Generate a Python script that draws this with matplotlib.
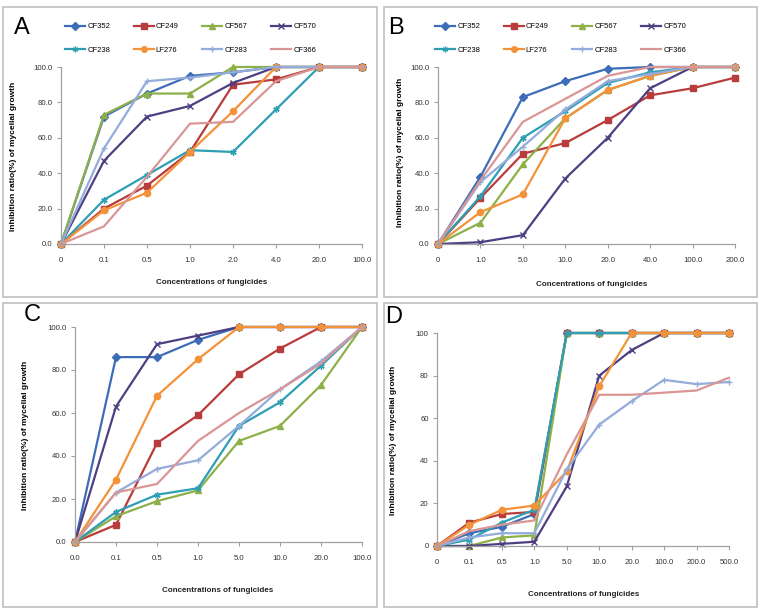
import matplotlib
matplotlib.use("Agg")
import matplotlib.pyplot as plt
from matplotlib.patches import Rectangle

plt.rcParams['font.family'] = ['Liberation Sans', 'DejaVu Sans']

strains = ["CF352", "CF249", "CF567", "CF570", "CF238", "LF276", "CF283", "CF366"]
colors = ['#3D6DB8', '#B83C3C', '#8DB048', '#4E3F82', '#2E9FB3', '#F39238', '#93ACDB', '#DA9695']
markers = ['D', 's', '^', 'x', (6, 2, 0), 'o', '+', None]

conc_A = ["0", "0.1", "0.5", "1.0", "2.0", "4.0", "20.0", "100.0"]
conc_B = ["0", "1.0", "5.0", "10.0", "20.0", "40.0", "100.0", "200.0"]
conc_C = ["0.0", "0.1", "0.5", "1.0", "5.0", "10.0", "20.0", "100.0"]
conc_D = ["0", "0.1", "0.5", "1.0", "5.0", "10.0", "20.0", "100.0", "200.0", "500.0"]

# rows follow the order of strains
values_A = [
    [0, 72, 85, 95, 97, 100, 100, 100],
    [0, 20, 33, 52, 90, 93, 100, 100],
    [0, 73, 85, 85, 100, 100, 100, 100],
    [0, 47, 72, 78, 91, 100, 100, 100],
    [0, 25, 39, 53, 52, 76, 100, 100],
    [0, 19, 29, 52, 75, 100, 100, 100],
    [0, 54, 92, 94, 97, 100, 100, 100],
    [0, 10, 38, 68, 69, 92, 100, 100],
]
values_B = [
    [0, 38, 83, 92, 99, 100, 100, 100],
    [0, 26, 51, 57, 70, 84, 88, 94],
    [0, 12, 45, 71, 87, 95, 100, 100],
    [0, 1, 5, 37, 60, 88, 100, 100],
    [0, 27, 60, 75, 91, 97, 100, 100],
    [0, 18, 28, 71, 87, 95, 100, 100],
    [0, 35, 55, 76, 92, 96, 100, 100],
    [0, 36, 69, 82, 95, 100, 100, 100],
]
values_C = [
    [0, 86, 86, 94, 100, 100, 100, 100],
    [0, 8, 46, 59, 78, 90, 100, 100],
    [0, 12, 19, 24, 47, 54, 73, 100],
    [0, 63, 92, 96, 100, 100, 100, 100],
    [0, 14, 22, 25, 54, 65, 82, 100],
    [0, 29, 68, 85, 100, 100, 100, 100],
    [0, 23, 34, 38, 54, 71, 84, 100],
    [0, 23, 27, 47, 60, 71, 83, 100],
]
values_D = [
    [0, 6, 9, 15, 100, 100, 100, 100, 100, 100],
    [0, 11, 15, 16, 100, 100, 100, 100, 100, 100],
    [0, 0, 4, 5, 100, 100, 100, 100, 100, 100],
    [0, 0, 1, 2, 28, 80, 92, 100, 100, 100],
    [0, 3, 11, 17, 100, 100, 100, 100, 100, 100],
    [0, 10, 17, 19, 35, 75, 100, 100, 100, 100],
    [0, 4, 6, 6, 36, 57, 68, 78, 76, 77],
    [0, 7, 10, 12, 43, 71, 71, 72, 73, 79],
]

W, H = 761, 614
fig = plt.figure(figsize=(W / 100, H / 100), dpi=100)


def fx(px):
    return px / W


def fy(py):
    return 1 - py / H


# panel frames
for (x0, y0, x1, y1) in [(3, 7, 377, 297), (384, 7, 757, 297), (3, 303, 377, 607), (384, 303, 757, 607)]:
    fig.patches.append(Rectangle((fx(x0), fy(y1)), fx(x1 - x0), (y1 - y0) / H,
                                 transform=fig.transFigure, fill=False, ec='#C4C4C4', lw=1.3))

panels = [
    ("A", conc_A, values_A, (61, 67, 362, 244), "{:.1f}", (22, 28), (14, 156), (212, 283)),
    ("B", conc_B, values_B, (438, 67, 735, 244), "{:.1f}", (396, 28), (401, 152), (592, 284)),
    ("C", conc_C, values_C, (75, 327, 362, 542), "{:.1f}", (32, 315), (26, 435), (218, 590)),
    ("D", conc_D, values_D, (437, 333, 729, 546), "{:.0f}", (394, 317), (394, 440), (584, 595)),
]

# legend is filled row by row in the reference (4 per row)
row_order = [0, 4, 1, 5, 2, 6, 3, 7]

gray = '#A0A0A0'
for letter, cats, vals, (l, t, r, b), fmt, lpos, ypos, xpos in panels:
    ax = fig.add_axes([fx(l), fy(b), fx(r - l), (b - t) / H])
    x = list(range(len(cats)))
    handles = []
    for name, c, m, v in zip(strains, colors, markers, vals):
        h, = ax.plot(x, v, color=c, lw=1.6, marker=m, ms=4.5, mew=1.0,
                     mec=c, mfc=c, clip_on=False, label=name)
        handles.append(h)
    ax.set_xlim(0, len(cats) - 1)
    ax.set_ylim(0, 100)
    ax.set_xticks(x)
    ax.set_xticklabels(cats)
    yt = [0, 20, 40, 60, 80, 100]
    ax.set_yticks(yt)
    ax.set_yticklabels([fmt.format(v) for v in yt])
    for s in ['top', 'right']:
        ax.spines[s].set_visible(False)
    for s in ['left', 'bottom']:
        ax.spines[s].set_color(gray)
        ax.spines[s].set_linewidth(0.9)
    ax.tick_params(axis='both', length=3, width=0.8, color=gray, labelsize=5.6,
                   labelcolor='#333333')
    ax.tick_params(axis='x', pad=6)
    ax.tick_params(axis='y', pad=3)
    ax.set_facecolor('none')

    fig.text(fx(lpos[0]), fy(lpos[1]), letter, fontsize=17, ha='center', va='center')
    fig.text(fx(ypos[0]), fy(ypos[1]), "Inhibition ratio(%) of mycelial growth",
             rotation=90, fontsize=6, fontweight='bold', ha='center', va='center')
    fig.text(fx(xpos[0]), fy(xpos[1]), "Concentrations of fungicides",
             fontsize=5.8, fontweight='bold', ha='center', va='center', color='#222222')

    if letter in ("A", "B"):
        lx = 65 if letter == "A" else 435
        ax.legend(handles=[handles[i] for i in row_order], ncol=4, loc='upper left',
                  frameon=False, bbox_to_anchor=(fx(lx), fy(23)),
                  bbox_transform=fig.transFigure, fontsize=5.5, handlelength=2.6,
                  handletextpad=0.3, columnspacing=3.1, labelspacing=2.1,
                  borderpad=0, borderaxespad=0, markerscale=0.9)

fig.savefig("out.png", dpi=100)
